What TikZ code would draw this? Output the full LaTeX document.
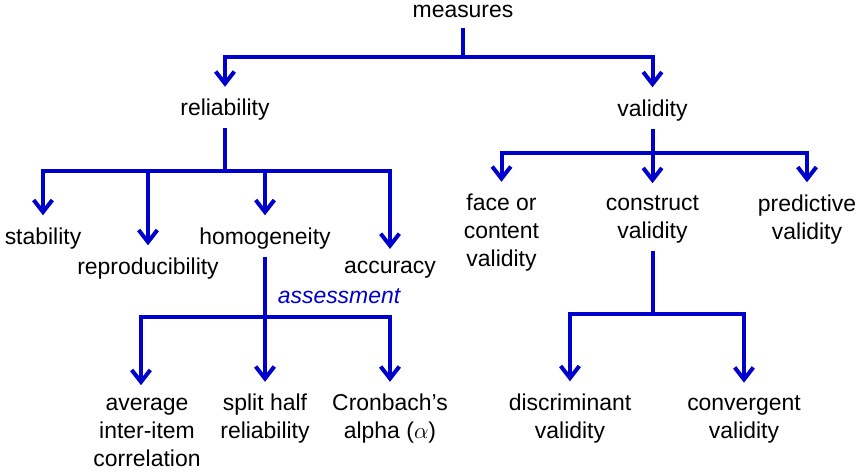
\documentclass[tikz,border=0pt]{standalone}
\usepackage{fontspec}
\setmainfont{Liberation Sans}
\usetikzlibrary{arrows.meta}
\definecolor{lineblue}{RGB}{0,0,204}
\begin{document}
\begin{tikzpicture}[x=0.75pt,y=-0.75pt,
  lbl/.style={inner sep=0pt, outer sep=0pt, align=center, font=\fontsize{17.2pt}{21pt}\selectfont},
  link/.style={draw=lineblue, line width=3pt, shorten <=5.5pt},
  arr/.style={draw=lineblue, line width=3pt, -{Straight Barb[length=9pt,width=14pt]}, shorten >=9.4pt},
]
\useasboundingbox (0,0) rectangle (862,471);
% nodes
\node[lbl] (measures) at (463,11) {measures};
\node[lbl] (reliability) at (225,110) {reliability};
\node[lbl] (validity) at (652.5,110.5) {validity};
\node[lbl] (stability) at (43,238.5) {stability};
\node[lbl] (reproducibility) at (148,268.5) {reproducibility};
\node[lbl] (homogeneity) at (265,238.5) {homogeneity};
\node[lbl] (accuracy) at (390,270) {accuracy};
\node[lbl, text=lineblue, font=\fontsize{17.2pt}{21pt}\selectfont\itshape] (assessment) at (339,296.5) {assessment};
\node[lbl] (average) at (147,432) {average\\inter-item\\correlation};
\node[lbl] (splithalf) at (265,419) {split half\\reliability};
\node[lbl] (cronbach) at (390,419) {Cronbach’s\\alpha ($\alpha$)};
\node[lbl] (face) at (501.5,233) {face or\\content\\validity};
\node[lbl] (construct) at (652.5,219.5) {construct\\validity};
\node[lbl] (predictive) at (807,219.5) {predictive\\validity};
\node[lbl] (discriminant) at (570,418.5) {discriminant\\validity};
\node[lbl] (convergent) at (744,419) {convergent\\validity};
% junctions
\coordinate (jm) at (463,57);
\coordinate (jr) at (225,171);
\coordinate (jh) at (265,317);
\coordinate (jv) at (652.5,153);
\coordinate (jc) at (652.5,314);
% connectors
\draw[link, shorten <=8pt] (measures) -- (jm);
\draw[arr] (jm) -| (reliability);
\draw[arr] (jm) -| (validity);
\draw[link] (reliability) -- (jr);
\draw[arr] (jr) -| (stability);
\draw[arr] (jr) -| (reproducibility);
\draw[arr] (jr) -| (homogeneity);
\draw[arr] (jr) -| (accuracy);
\draw[link] (homogeneity) -- (jh);
\draw[arr] (jh) -| ([xshift=-4.5pt]average.north);
\draw[arr] (jh) -- (splithalf);
\draw[arr] (jh) -| (cronbach);
\draw[link] (validity) -- (jv);
\draw[arr] (jv) -| (face);
\draw[arr] (jv) -- (construct);
\draw[arr] (jv) -| (predictive);
\draw[link] (construct) -- (jc);
\draw[arr] (jc) -| (discriminant);
\draw[arr] (jc) -| (convergent);
\end{tikzpicture}
\end{document}
